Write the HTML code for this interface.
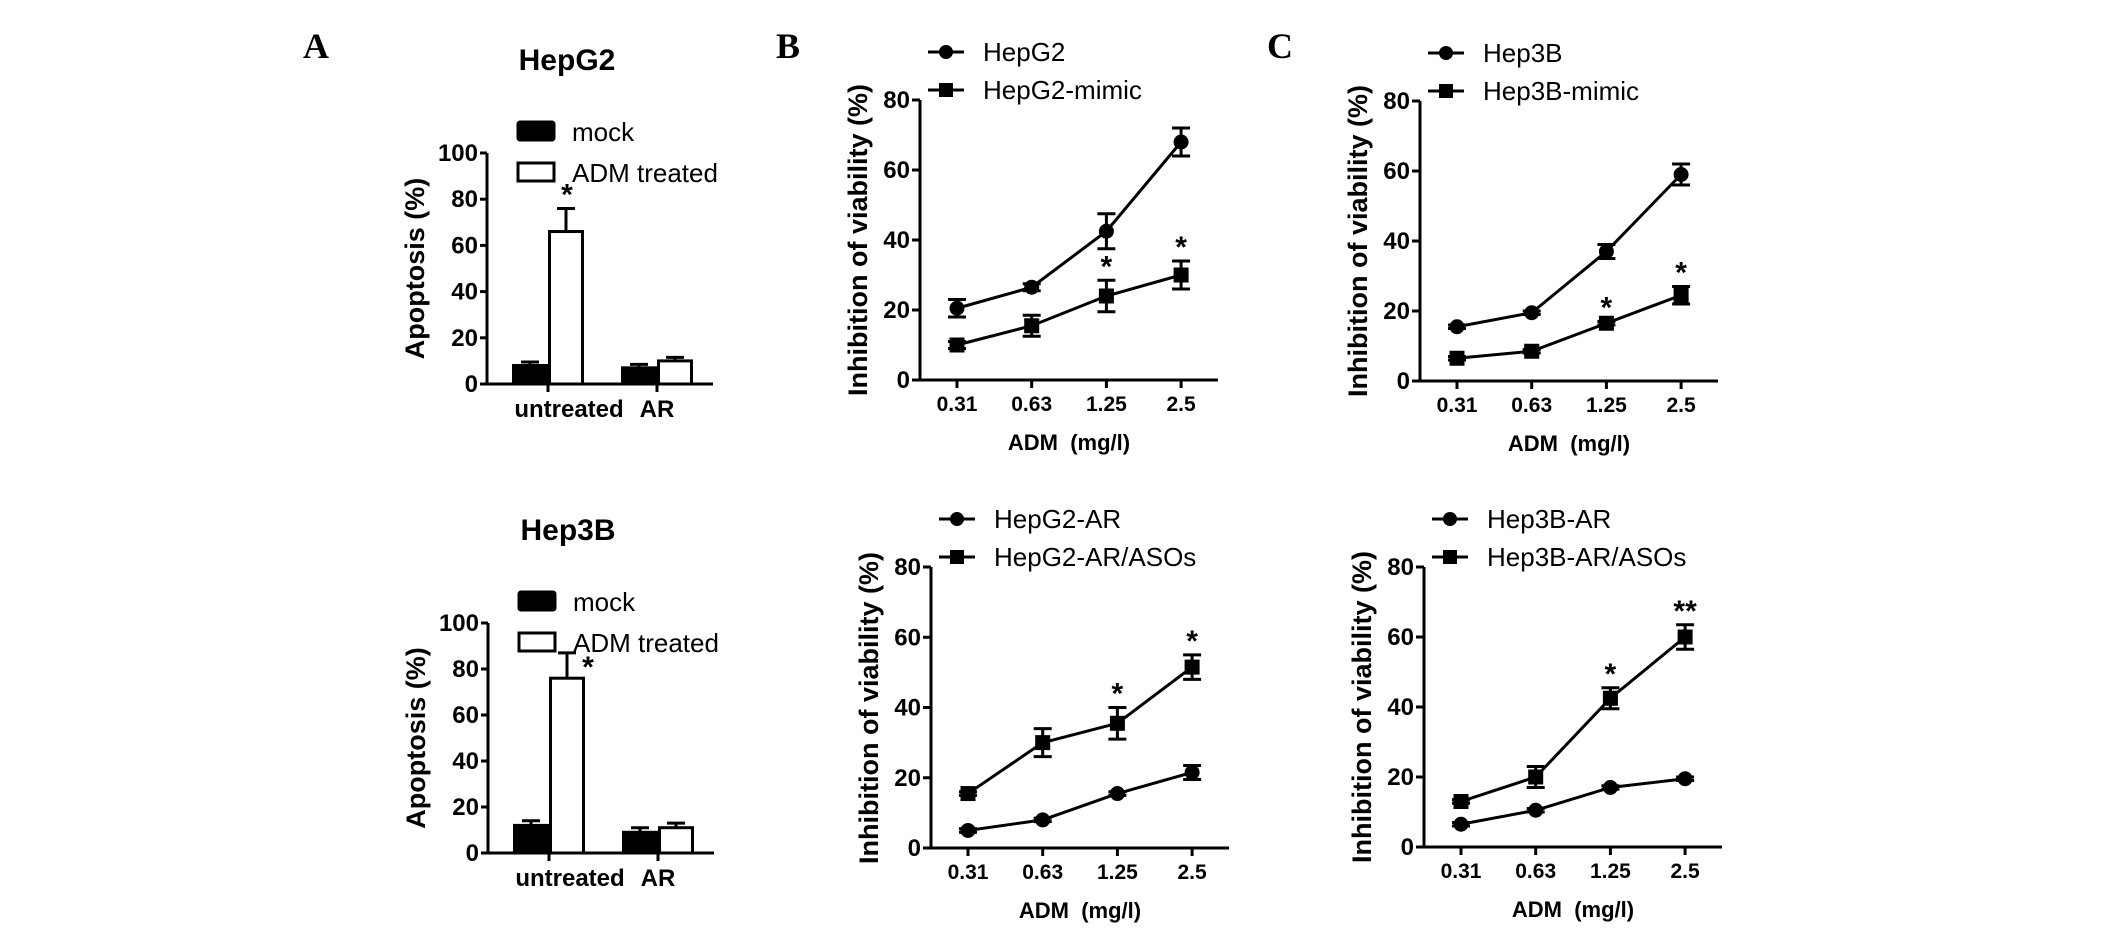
<!DOCTYPE html>
<html><head><meta charset="utf-8"><style>
html,body{margin:0;padding:0;background:#fff;}
svg{display:block;font-family:"Liberation Sans",Arial,sans-serif;}
.tk{font-size:21px;font-weight:bold;}
.ytk{font-size:24px;font-weight:bold;}
.lg{font-size:26px;}
.ax{font-size:27px;font-weight:bold;}
.xt{font-size:22px;font-weight:bold;white-space:pre;}
.pl{font-family:"Liberation Serif",serif;font-size:36px;font-weight:bold;}
</style></head><body>
<svg id="fig" width="2126" height="936" viewBox="0 0 2126 936" xmlns="http://www.w3.org/2000/svg">
<text class="pl" x="303" y="58">A</text>
<text class="pl" x="776" y="58">B</text>
<text class="pl" x="1267" y="58">C</text>
</svg>
<script>
// ---- Data ----
const barCats = ["untreated", "AR"];
const barSeries = ["mock", "ADM treated"];
const barTicks = [0, 20, 40, 60, 80, 100];
const hepg2Mock = [8, 7];
const hepg2MockErr = [1.5, 1.5];
const hepg2Adm = [66, 10];
const hepg2AdmErr = [10, 1.5];
const hep3bMock = [12, 9];
const hep3bMockErr = [2, 2];
const hep3bAdm = [76, 11];
const hep3bAdmErr = [11, 2];

const doseLabels = ["0.31", "0.63", "1.25", "2.5"];
const lineTicks = [0, 20, 40, 60, 80];
const bTopA = [20.5, 26.5, 42.5, 68];
const bTopAErr = [2.5, 1, 5, 4];
const bTopB = [10, 15.5, 24, 30];
const bTopBErr = [1, 3, 4.5, 4];
const bTopStars = ["", "", "*", "*"];
const bBotA = [5, 8, 15.5, 21.5];
const bBotAErr = [0.5, 0.5, 0.5, 2];
const bBotB = [15.5, 30, 35.5, 51.5];
const bBotBErr = [0.5, 4, 4.5, 3.5];
const bBotStars = ["", "", "*", "*"];
const cTopA = [15.5, 19.5, 37, 59];
const cTopAErr = [0.5, 0.5, 2, 3];
const cTopB = [6.5, 8.5, 16.5, 24.5];
const cTopBErr = [0.5, 0.5, 0.5, 2.5];
const cTopStars = ["", "", "*", "*"];
const cBotA = [6.5, 10.5, 17, 19.5];
const cBotAErr = [0.5, 0.5, 0.5, 0.5];
const cBotB = [13, 20, 42.5, 60];
const cBotBErr = [0.5, 3, 3, 3.5];
const cBotStars = ["", "", "*", "**"];

const NS = "http://www.w3.org/2000/svg";
const svg = document.getElementById("fig");
function mk(tag, attrs, parent) {
  const e = document.createElementNS(NS, tag);
  for (const k in attrs) e.setAttribute(k, attrs[k]);
  (parent || svg).appendChild(e);
  return e;
}
function txt(s, attrs, parent) { const t = mk("text", attrs, parent); t.textContent = s; return t; }

function barChart(o) {
  const g = mk("g", {});
  
  
  const y = v => o.y0 - v / 100 * (o.y0 - o.y100);
  const t = txt(o.title, {x: o.ax + 80, y: o.y100 - 83, "font-size": 30, "font-weight": "bold", "text-anchor": "middle"}, g);
  
  
  const lm = mk("rect", {x: o.ax + 31, y: o.y100 - 31, width: 36, height: 18, fill: "#000", stroke: "#000", "stroke-width": 3, rx: 2}, g);
  
  
  const lt1 = txt(barSeries[0], {x: o.ax + 85, y: o.y100 - 12, class: "lg"}, g);
  
  
  const la = mk("rect", {x: o.ax + 31, y: o.y100 + 10, width: 36, height: 18, fill: "#fff", stroke: "#000", "stroke-width": 3}, g);
  
  
  const lt2 = txt(barSeries[1], {x: o.ax + 85, y: o.y100 + 29, class: "lg"}, g);
  
  
  const xa = mk("path", {d: `M${o.ax} ${o.y100} V${o.y0} H${o.ax + 226}`, stroke: "#000", "stroke-width": 3, fill: "none"}, g);
  
  
  barTicks.forEach(v => {
    mk("line", {x1: o.ax - 7, x2: o.ax, y1: y(v), y2: y(v), stroke: "#000", "stroke-width": 3}, g);
    const tl = txt(v, {x: o.ax - 9, y: y(v) + 8, class: "ytk", "text-anchor": "end"}, g);
    
    
  });
  const yt = txt("Apoptosis (%)", {x: 0, y: 0, class: "ax", "text-anchor": "middle", transform: `translate(${o.ax - 63},${(o.y0 + o.y100) / 2}) rotate(-90)`}, g);
  
  
  const cx = [o.ax + 61, o.ax + 170];
  const labX = [o.ax + 82, o.ax + 170];
  barCats.forEach((c, i) => {
    const cl = txt(c, {x: labX[i], y: o.y0 + 33, "font-size": 24, "font-weight": "bold", "text-anchor": "middle"}, g);
    
    
    mk("line", {x1: cx[i], x2: cx[i], y1: o.y0, y2: o.y0 + 8, stroke: "#000", "stroke-width": 3}, g);
    const bw = 36;
    [[o.mock, o.mockErr, "#000", cx[i] - bw, "bar-mock-" + c], [o.adm, o.admErr, "#fff", cx[i], "bar-adm-" + c]].forEach(s => {
      const v = s[0][i], e = s[1][i];
      const ex = s[3] + bw / 2;
      mk("line", {x1: ex, x2: ex, y1: y(v), y2: y(v + e), stroke: "#000", "stroke-width": 3}, g);
      mk("line", {x1: ex - 9, x2: ex + 9, y1: y(v + e), y2: y(v + e), stroke: "#000", "stroke-width": 3}, g);
      const r = mk("rect", {x: s[3] + 1.5, y: y(v), width: bw - 3, height: o.y0 - y(v), fill: s[2], stroke: "#000", "stroke-width": 3}, g);
      
      
    });
  });
  const st = txt("*", {x: o.starX, y: y(o.adm[0] + o.admErr[0]) + o.starDy, "font-size": 30, "font-weight": "bold", "text-anchor": "middle"}, g);
  
  
}

function lineChart(o) {
  const g = mk("g", {});
  
  
  const y = v => o.y0 - v / 80 * (o.y0 - o.y80);
  const x = i => o.ax + 37 + i * 74.7;
  const ax = mk("path", {d: `M${o.ax} ${o.y80} V${o.y0} H${o.ax + 298}`, stroke: "#000", "stroke-width": 3, fill: "none"}, g);
  
  
  lineTicks.forEach(v => {
    mk("line", {x1: o.ax - 8, x2: o.ax, y1: y(v), y2: y(v), stroke: "#000", "stroke-width": 3}, g);
    const tl = txt(v, {x: o.ax - 10, y: y(v) + 8, class: "ytk", "text-anchor": "end"}, g);
    
    
  });
  doseLabels.forEach((d, i) => {
    mk("line", {x1: x(i), x2: x(i), y1: o.y0, y2: o.y0 + 8, stroke: "#000", "stroke-width": 3}, g);
    const tl = txt(d, {x: x(i), y: o.y0 + 31, class: "tk", "text-anchor": "middle"}, g);
    
    
  });
  const xt = txt("ADM  (mg/l)", {x: o.ax + 149, y: o.y0 + 70, class: "xt", "text-anchor": "middle"}, g);
  
  
  const yt = txt("Inhibition of viability (%)", {x: 0, y: 0, class: "ax", "text-anchor": "middle", transform: `translate(${o.ax - 53},${o.y0 - 140}) rotate(-90)`}, g);
  
  
  [[o.a, o.aErr, "circle", o.labels[0]], [o.b, o.bErr, "square", o.labels[1]]].forEach((s, si) => {
    const vals = s[0], errs = s[1];
    const p = mk("polyline", {points: vals.map((v, i) => x(i) + "," + y(v)).join(" "), fill: "none", stroke: "#000", "stroke-width": 3}, g);
    
    
    vals.forEach((v, i) => {
      const e = errs[i];
      mk("path", {d: `M${x(i)} ${y(v - e)} V${y(v + e)} M${x(i) - 9} ${y(v - e)} H${x(i) + 9} M${x(i) - 9} ${y(v + e)} H${x(i) + 9}`, stroke: "#000", "stroke-width": 3, fill: "none"}, g);
      let m;
      if (s[2] === "circle") m = mk("circle", {cx: x(i), cy: y(v), r: 7.5, fill: "#000"}, g);
      else m = mk("rect", {x: x(i) - 7.5, y: y(v) - 7.5, width: 15, height: 15, fill: "#000"}, g);
      
      
    });
    const ly = o.y80 - 48 + si * 38;
    mk("line", {x1: o.ax + 8, x2: o.ax + 44, y1: ly, y2: ly, stroke: "#000", "stroke-width": 3}, g);
    const lm = s[2] === "circle" ? mk("circle", {cx: o.ax + 26, cy: ly, r: 7, fill: "#000"}, g)
      : mk("rect", {x: o.ax + 19, y: ly - 7, width: 14, height: 14, fill: "#000"}, g);
    
    
    const lt = txt(s[3], {x: o.ax + 63, y: ly + 9, class: "lg"}, g);
    
    
  });
  o.stars.forEach((st, i) => {
    if (!st) return;
    const v = Math.max(o.b[i] + o.bErr[i], 0);
    const t = txt(st, {x: x(i), y: y(v) - 4, "font-size": 30, "font-weight": "bold", "text-anchor": "middle"}, g);
    
    
  });
}

barChart({name: "hepg2-apoptosis-chart", title: "HepG2", ax: 487, y0: 384, y100: 153, mock: hepg2Mock, mockErr: hepg2MockErr, adm: hepg2Adm, admErr: hepg2AdmErr, starX: 567, starDy: -4});
barChart({name: "hep3b-apoptosis-chart", title: "Hep3B", ax: 488, y0: 853, y100: 623, mock: hep3bMock, mockErr: hep3bMockErr, adm: hep3bAdm, admErr: hep3bAdmErr, starX: 588, starDy: 24});
lineChart({name: "hepg2-mimic-chart", ax: 920, y0: 380, y80: 100, a: bTopA, aErr: bTopAErr, b: bTopB, bErr: bTopBErr, stars: bTopStars, labels: ["HepG2", "HepG2-mimic"]});
lineChart({name: "hepg2-ar-chart", ax: 931, y0: 848, y80: 567, a: bBotA, aErr: bBotAErr, b: bBotB, bErr: bBotBErr, stars: bBotStars, labels: ["HepG2-AR", "HepG2-AR/ASOs"]});
lineChart({name: "hep3b-mimic-chart", ax: 1420, y0: 381, y80: 101, a: cTopA, aErr: cTopAErr, b: cTopB, bErr: cTopBErr, stars: cTopStars, labels: ["Hep3B", "Hep3B-mimic"]});
lineChart({name: "hep3b-ar-chart", ax: 1424, y0: 847, y80: 567, a: cBotA, aErr: cBotAErr, b: cBotB, bErr: cBotBErr, stars: cBotStars, labels: ["Hep3B-AR", "Hep3B-AR/ASOs"]});
</script>
</body></html>
